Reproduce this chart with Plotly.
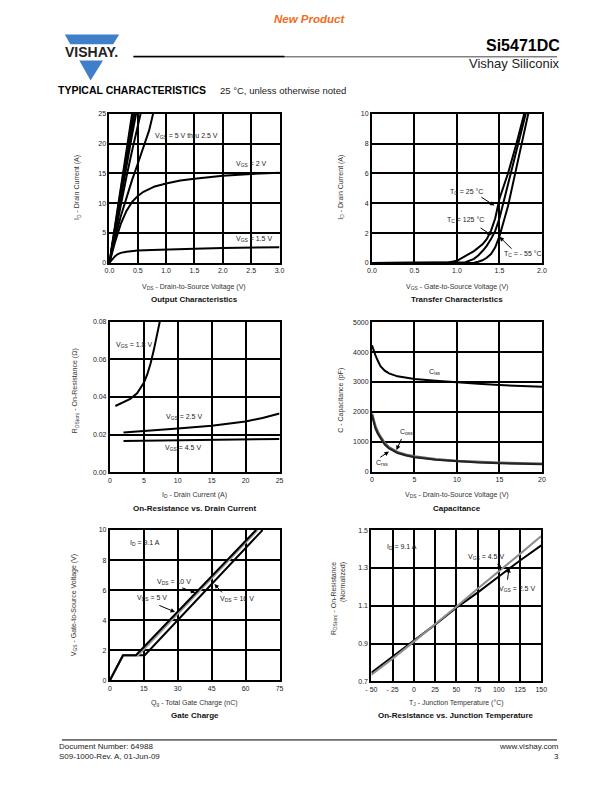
import plotly.graph_objects as go

W, H = 612, 792
FONT = "Liberation Sans, Arial, Helvetica, sans-serif"


def px(x):
    return x / W


def py(y):
    return 1 - y / H


# ---------------- data ----------------
# Output characteristics: VDS (V) vs ID (A)
out_v5_x = [0, 0.1, 0.2, 0.3, 0.4]
out_v5_y = [0, 6.3, 12.6, 18.9, 25.0]
out_v45_x = [0, 0.1, 0.2, 0.3, 0.415]
out_v45_y = [0, 6.1, 12.1, 18.1, 25.0]
out_v4_x = [0, 0.1, 0.2, 0.3, 0.4, 0.44]
out_v4_y = [0, 5.8, 11.5, 17.2, 22.8, 25.0]
out_v35_x = [0, 0.1, 0.2, 0.3, 0.4, 0.47]
out_v35_y = [0, 5.5, 11.0, 16.3, 21.5, 25.0]
out_v3_x = [0, 0.1, 0.2, 0.3, 0.4, 0.5, 0.55]
out_v3_y = [0, 5.0, 9.8, 14.4, 18.8, 23.0, 25.0]
out_v25_x = [0, 0.1, 0.2, 0.3, 0.4, 0.5, 0.6, 0.7, 0.77]
out_v25_y = [0, 4.2, 7.8, 11.0, 13.9, 16.6, 19.3, 22.2, 25.0]
out_v2_x = [0, 0.1, 0.2, 0.3, 0.4, 0.5, 0.6, 0.8, 1.0, 1.25, 1.5, 2.0, 2.5, 3.0]
out_v2_y = [0, 3.5, 6.5, 8.7, 10.2, 11.2, 11.9, 12.8, 13.3, 13.8, 14.1, 14.6, 14.9, 15.1]
out_v15_x = [0, 0.05, 0.1, 0.15, 0.2, 0.3, 0.5, 0.75, 1.0, 1.5, 2.0, 2.5, 3.0]
out_v15_y = [0, 0.6, 1.1, 1.45, 1.65, 1.85, 2.05, 2.15, 2.25, 2.35, 2.45, 2.5, 2.6]

# Transfer characteristics: VGS (V) vs ID (A)
tr_a_x = [0, 0.85, 0.9, 1.0, 1.1, 1.2, 1.3, 1.35, 1.4, 1.45, 1.5, 1.6, 1.7, 1.8, 1.85]
tr_a_y = [0, 0, 0.03, 0.15, 0.45, 0.8, 1.25, 1.6, 2.15, 3.0, 4.3, 6.0, 8.0, 10.2, 11.3]
tr_b_x = [0, 1.0, 1.1, 1.2, 1.25, 1.3, 1.35, 1.4, 1.45, 1.5, 1.55, 1.6, 1.65, 1.7, 1.75, 1.8, 1.85]
tr_b_y = [0, 0, 0.05, 0.28, 0.5, 0.8, 1.15, 1.6, 2.15, 3.0, 4.1, 5.2, 6.3, 7.4, 8.5, 9.8, 11.0]
tr_c_x = [0, 1.15, 1.2, 1.25, 1.3, 1.35, 1.4, 1.45, 1.5, 1.55, 1.6, 1.65, 1.7, 1.75, 1.8, 1.85, 1.9]
tr_c_y = [0, 0, 0.02, 0.08, 0.18, 0.35, 0.6, 1.05, 1.8, 2.8, 3.8, 5.1, 6.4, 7.7, 9.0, 10.3, 11.6]

# On-resistance vs drain current: ID (A) vs RDS(on) (ohm)
rd_18_x = [0.8, 1.5, 2, 3, 4, 5, 5.5, 6, 6.5, 7, 7.4]
rd_18_y = [0.0352, 0.0365, 0.0375, 0.039, 0.042, 0.0475, 0.052, 0.058, 0.0655, 0.074, 0.081]
rd_25_x = [2, 5, 10, 15, 20, 22.5, 25]
rd_25_y = [0.0211, 0.0218, 0.0232, 0.0247, 0.027, 0.0288, 0.0312]
rd_45_x = [2, 10, 20, 25]
rd_45_y = [0.0166, 0.0170, 0.0175, 0.0177]

# Capacitance: VDS (V) vs C (pF)
cap_v = [0, 0.2, 0.4, 0.7, 1.0, 1.5, 2, 3, 4, 5, 7.5, 10, 12.5, 15, 17.5, 20]
cap_ciss = [4230, 4050, 3900, 3700, 3530, 3380, 3290, 3190, 3140, 3100, 3040, 2980, 2940, 2900, 2870, 2840]
cap_coss = [1950, 1720, 1520, 1330, 1170, 960, 820, 660, 570, 510, 420, 365, 330, 305, 285, 270]
cap_crss = [1900, 1650, 1450, 1260, 1110, 910, 780, 630, 545, 490, 400, 345, 312, 288, 270, 255]

# Gate charge: Qg (nC) vs VGS (V)
gc_5_x = [0, 5.8, 11.5, 64.6]
gc_5_y = [0, 1.67, 1.67, 10]
gc_10_x = [0, 5.8, 12.5, 65.3]
gc_10_y = [0, 1.67, 1.67, 10]
gc_16_x = [0, 5.8, 15.4, 67.5]
gc_16_y = [0, 1.67, 1.67, 10]

# On-resistance vs junction temperature (normalized)
tj = [-50, -25, 0, 25, 50, 75, 100, 125, 150]
rt_45 = [0.735, 0.82, 0.91, 1.0, 1.095, 1.19, 1.28, 1.375, 1.47]
rt_25 = [0.745, 0.83, 0.915, 1.0, 1.09, 1.17, 1.255, 1.34, 1.42]

# tick labels
t1_x = [0, 0.5, 1.0, 1.5, 2.0, 2.5, 3.0]
t1_y = [0, 5, 10, 15, 20, 25]
t2_x = [0, 0.5, 1.0, 1.5, 2.0]
t2_y = [0, 2, 4, 6, 8, 10]
t3_x = [0, 5, 10, 15, 20, 25]
t3_y = [0, 0.02, 0.04, 0.06, 0.08]
t4_x = [0, 5, 10, 15, 20]
t4_y = [0, 1000, 2000, 3000, 4000, 5000]
t5_x = [0, 15, 30, 45, 60, 75]
t5_y = [0, 2, 4, 6, 8, 10]
t6_x = [-50, -25, 0, 25, 50, 75, 100, 125, 150]
t6_xtext = ["- 50", "- 25", "0", "25", "50", "75", "100", "125", "150"]
t6_y = [0.7, 0.9, 1.1, 1.3, 1.5]

# ---------------- figure ----------------
fig = go.Figure()

panels = [
    dict(box=(105.5, 110.7, 279, 261), xr=[0, 3], yr=[0, 25], xt=t1_x, yt=t1_y, xf=".1f", yf="d"),
    dict(box=(373.3, 110.7, 546.7, 261.3), xr=[0, 2], yr=[0, 10], xt=t2_x, yt=t2_y, xf=".1f", yf="d"),
    dict(box=(106, 320.7, 279, 472.3), xr=[0, 25], yr=[0, 0.08], xt=t3_x, yt=t3_y, xf="d", yf=".2f"),
    dict(box=(373.3, 321, 546.7, 472), xr=[0, 20], yr=[0, 5000], xt=t4_x, yt=t4_y, xf="d", yf="d"),
    dict(box=(106, 530.7, 279, 682.3), xr=[0, 75], yr=[0, 10], xt=t5_x, yt=t5_y, xf="d", yf="d"),
    dict(box=(372.7, 531, 546, 683.3), xr=[-50, 150], yr=[0.7, 1.5], xt=t6_x, yt=t6_y, xf="d", yf=".1f"),
]

layout_axes = {}
for i, p in enumerate(panels, start=1):
    x0, y0, x1, y1 = p["box"]
    common = dict(showline=True, linecolor="black", linewidth=2, mirror=True,
                  showgrid=True, gridcolor="black", gridwidth=2, zeroline=False,
                  ticks="", tickfont=dict(size=7, color="#222", family=FONT),
                  fixedrange=True)
    xa = dict(common, domain=[px(x0), px(x1)], range=p["xr"], tickvals=p["xt"],
              tickformat=p["xf"], anchor=f"y{i}" if i > 1 else "y")
    ya = dict(common, domain=[py(y1), py(y0)], range=p["yr"], tickvals=p["yt"],
              tickformat=p["yf"], anchor=f"x{i}" if i > 1 else "x")
    if i == 6:
        xa["ticktext"] = t6_xtext
    layout_axes["xaxis" if i == 1 else f"xaxis{i}"] = xa
    layout_axes["yaxis" if i == 1 else f"yaxis{i}"] = ya


def line(x, y, n, color="black", width=2):
    fig.add_trace(go.Scatter(x=x, y=y, mode="lines",
                             line=dict(color=color, width=width),
                             xaxis="x" if n == 1 else f"x{n}",
                             yaxis="y" if n == 1 else f"y{n}",
                             hoverinfo="skip", showlegend=False))


# chart 1
for xs, ys in [(out_v5_x, out_v5_y), (out_v45_x, out_v45_y), (out_v4_x, out_v4_y),
               (out_v35_x, out_v35_y), (out_v3_x, out_v3_y), (out_v25_x, out_v25_y),
               (out_v2_x, out_v2_y), (out_v15_x, out_v15_y)]:
    line(xs, ys, 1)
# chart 2
line(tr_a_x, tr_a_y, 2)
line(tr_b_x, tr_b_y, 2)
line(tr_c_x, tr_c_y, 2)
# chart 3
line(rd_18_x, rd_18_y, 3)
line(rd_25_x, rd_25_y, 3)
line(rd_45_x, rd_45_y, 3)
# chart 4
line(cap_v, cap_ciss, 4)
line(cap_v, cap_coss, 4, color="#666666", width=2.5)
line(cap_v, cap_crss, 4, color="#222222", width=2)
# chart 5
line(gc_16_x, gc_16_y, 5)
line(gc_10_x, gc_10_y, 5, color="#9a9a9a", width=2.2)
line(gc_5_x, gc_5_y, 5)
# chart 6
line(tj, rt_25, 6)
line(tj, rt_45, 6, color="#8c8c8c", width=2)

ann = []


def label(n, x, y, text, size=7, xanchor="left"):
    ann.append(dict(xref="x" if n == 1 else f"x{n}", yref="y" if n == 1 else f"y{n}",
                    x=x, y=y, text=text, showarrow=False, xanchor=xanchor, yanchor="middle",
                    font=dict(size=size, color="#222", family=FONT)))


def arrow(n, xh, yh, xt, yt):
    r = "x" if n == 1 else f"x{n}"
    ry = "y" if n == 1 else f"y{n}"
    ann.append(dict(xref=r, yref=ry, axref=r, ayref=ry, x=xh, y=yh, ax=xt, ay=yt,
                    text="", showarrow=True, arrowhead=2, arrowsize=0.9, arrowwidth=1,
                    arrowcolor="black", standoff=0, startstandoff=0))


def ptext(x, y, text, size=7, color="#222", xanchor="center", yanchor="middle",
          angle=0, align="center"):
    ann.append(dict(xref="paper", yref="paper", x=px(x), y=py(y), text=text, showarrow=False,
                    xanchor=xanchor, yanchor=yanchor, textangle=angle, align=align,
                    font=dict(size=size, color=color, family=FONT)))


# curve labels
label(1, 0.77, 21.2, "V<sub>GS</sub> = 5 V thru 2.5 V")
label(1, 2.2, 16.6, "V<sub>GS</sub> = 2 V")
label(1, 2.2, 4.0, "V<sub>GS</sub> = 1.5 V")

label(2, 0.9, 4.75, "T<sub>C</sub> = 25 °C")
arrow(2, 1.44, 3.85, 1.27, 4.47)
label(2, 0.86, 2.9, "T<sub>C</sub> = 125 °C")
arrow(2, 1.41, 1.86, 1.26, 2.41)
label(2, 1.53, 0.57, "T<sub>C</sub> = - 55 °C")
arrow(2, 1.5, 1.75, 1.66, 0.86)

label(3, 0.6, 0.0675, "V<sub>GS</sub> = 1.8 V")
label(3, 7.9, 0.0293, "V<sub>GS</sub> = 2.5 V")
label(3, 7.8, 0.0127, "V<sub>GS</sub> = 4.5 V")

label(4, 6.5, 3330, "C<sub>iss</sub>")
label(4, 3.05, 1340, "C<sub>oss</sub>")
arrow(4, 2.88, 730, 3.55, 1150)
label(4, 0.2, 290, "C<sub>rss</sub>")
arrow(4, 2.0, 675, 0.8, 455)

label(5, 8.2, 9.12, "I<sub>D</sub> = 9.1 A")
label(5, 19.8, 6.56, "V<sub>DS</sub> = 10 V")
arrow(5, 37.8, 5.82, 31.3, 6.19)
label(5, 11.1, 5.47, "V<sub>DS</sub> = 5 V")
arrow(5, 28.8, 4.54, 21.2, 5.02)
label(5, 47.9, 5.42, "V<sub>DS</sub> = 16 V")
arrow(5, 46.2, 6.41, 50.1, 5.75)

label(6, -34, 1.41, "I<sub>D</sub> = 9.1 A")
label(6, 61, 1.36, "V<sub>GS</sub> = 4.5 V")
arrow(6, 102.5, 1.29, 97.5, 1.33)
label(6, 98, 1.19, "V<sub>GS</sub> = 2.5 V")
arrow(6, 112, 1.30, 110, 1.23)

# axis titles and chart titles
xt_rows = [(285.5, 298.5), (495.5, 508.5), (705, 718)]
titles = [
    ("V<sub>DS</sub> - Drain-to-Source Voltage (V)", "Output Characteristics"),
    ("V<sub>GS</sub> - Gate-to-Source Voltage (V)", "Transfer Characteristics"),
    ("I<sub>D</sub> - Drain Current (A)", "On-Resistance vs. Drain Current"),
    ("V<sub>DS</sub> - Drain-to-Source Voltage (V)", "Capacitance"),
    ("Q<sub>g</sub> - Total Gate Charge (nC)", "Gate Charge"),
    ("T<sub>J</sub> - Junction Temperature (°C)", "On-Resistance vs. Junction Temperature"),
]
for i, p in enumerate(panels):
    x0, y0, x1, y1 = p["box"]
    cx = (x0 + x1) / 2
    ry = xt_rows[i // 2]
    ptext(cx, ry[0], titles[i][0], size=7, color="#333")
    ptext(cx, ry[1], "<b>" + titles[i][1] + "</b>", size=8, color="#111")

ytitles = [
    (73, 185, "I<sub>D</sub> - Drain Current (A)"),
    (342, 185, "I<sub>D</sub> - Drain Current (A)"),
    (70, 390, "R<sub>DS(on)</sub> - On-Resistance (Ω)"),
    (342, 400, "C - Capacitance (pF)"),
    (69, 607, "V<sub>GS</sub> - Gate-to-Source Voltage (V)"),
]
for x, y, t in ytitles:
    ptext(x, y, t, size=7, color="#333", angle=-90)
ptext(339, 600, "R<sub>DS(on)</sub> - On-Resistance<br>(Normalized)", size=7, color="#333",
      angle=-90, align="right")

# header / footer text
ptext(310, 15, "<b><i>New Product</i></b>", size=11.5, color="#f26b21")
ptext(567, 41.5, "<b>Si5471DC</b>", size=16, color="black", xanchor="right")
ptext(567, 60.5, "Vishay Siliconix", size=13, color="#222", xanchor="right")
ptext(51, 87, "<b>TYPICAL CHARACTERISTICS</b>", size=10.5, color="black", xanchor="left")
ptext(216, 87.5, "25 °C, unless otherwise noted", size=9.5, color="#222", xanchor="left")
ptext(87, 48.5, "<b>VISHAY.</b>", size=14, color="#222")
ptext(52, 749, "Document Number: 64988", size=8, color="#222", xanchor="left")
ptext(52, 759, "S09-1000-Rev. A, 01-Jun-09", size=8, color="#222", xanchor="left")
ptext(566, 749, "www.vishay.com", size=8, color="#222", xanchor="right")
ptext(566, 759, "3", size=8, color="#222", xanchor="right")


# shapes: logo and rules
def path(points):
    return "M " + " L ".join(f"{px(x):.5f},{py(y):.5f}" for x, y in points) + " Z"


TL, TR, TOP = 60, 115.5, 30.7
AX, AY = 86.3, 77.3


def lx(y):
    return TL + (AX - TL) * (y - TOP) / (AY - TOP)


def rx(y):
    return TR + (AX - TR) * (y - TOP) / (AY - TOP)


shapes = [
    dict(type="path", xref="paper", yref="paper",
         path=path([(TL, TOP), (TR, TOP), (rx(40.5), 40.5), (lx(40.5), 40.5)]),
         fillcolor="#3f7fca", line=dict(width=0)),
    dict(type="path", xref="paper", yref="paper",
         path=path([(lx(57), 57), (rx(57), 57), (AX, AY)]),
         fillcolor="#3f7fca", line=dict(width=0)),
    dict(type="line", xref="paper", yref="paper", x0=px(130), x1=px(562), y0=py(53.3), y1=py(53.3),
         line=dict(color="#444", width=1)),
    dict(type="line", xref="paper", yref="paper", x0=px(130), x1=px(284), y0=py(53), y1=py(53),
         line=dict(color="black", width=1.5)),
    dict(type="line", xref="paper", yref="paper", x0=px(57), x1=px(562), y0=py(742.5), y1=py(742.5),
         line=dict(color="black", width=1)),
]

fig.update_layout(
    width=W, height=H, margin=dict(l=0, r=0, t=0, b=0), autosize=False,
    paper_bgcolor="white", plot_bgcolor="white", showlegend=False,
    font=dict(family=FONT, size=7, color="#222"),
    annotations=ann, shapes=shapes, **layout_axes,
)

fig.write_html("out.html", config={"displayModeBar": False},
               post_script="document.body.style.margin='0';")
